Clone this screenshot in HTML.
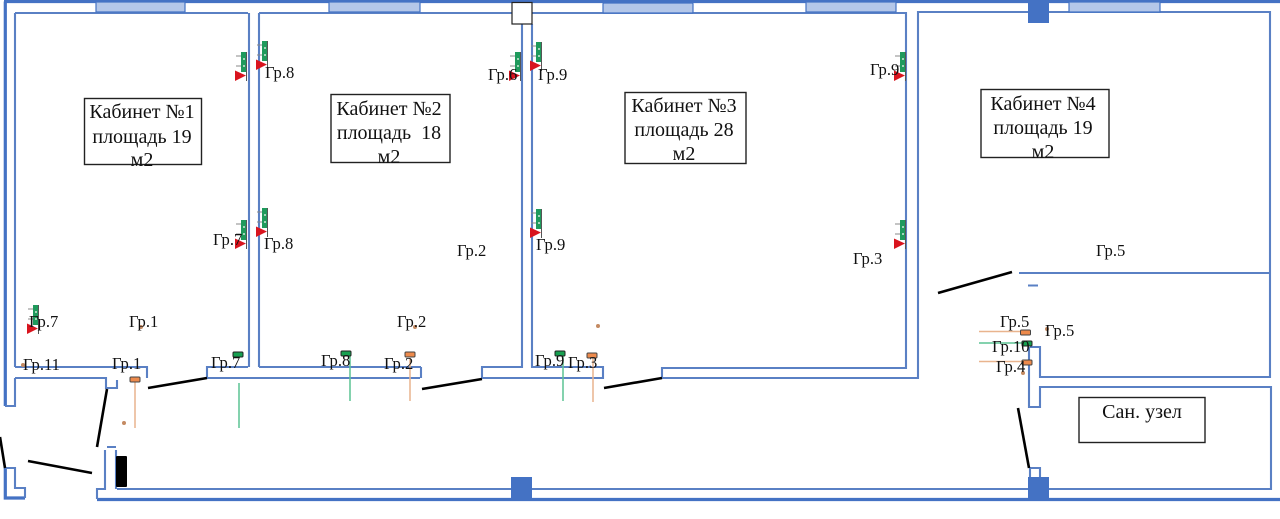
<!DOCTYPE html>
<html><head><meta charset="utf-8">
<style>
html,body{margin:0;padding:0;background:#fff;width:1280px;height:519px;overflow:hidden}
svg{display:block}
text{font-family:"Liberation Serif","Noto Serif CJK SC",serif;fill:#111}
.l{font-size:16.6px}
.c{font-size:20px;text-anchor:middle}
</style></head><body>
<svg width="1280" height="519" viewBox="0 0 1280 519" xmlns="http://www.w3.org/2000/svg">
<defs>
<g id="h">
<rect x="-5" y="0" width="6" height="20" fill="#1f9a5c"/>
<path d="M-3 7h2M-3 14h2" stroke="#cfe8d8" stroke-width="1.5"/>
<path d="M-10 4h5M-10 14h5" stroke="#888" stroke-width="1"/>
<path d="M-11 18.500L0 23.500L-11 29Z" fill="#d9141e"/>
<path d="M0.5 0V29" stroke="#555" stroke-width="1"/>
</g>
<rect id="sg" width="10" height="5" rx="1" fill="#17a050" stroke="#222" stroke-width="1"/>
<rect id="so" width="10" height="5" rx="1" fill="#ed8a4c" stroke="#444" stroke-width="1"/>
</defs>
<rect width="1280" height="519" fill="#fff"/>

<!-- thick outer walls -->
<g fill="none" stroke="#4472c4" stroke-width="3.200">
<path d="M4 1.500H1280"/>
<path d="M5.300 1.500V406"/>
<path d="M5.300 468V498H25"/>
<path d="M97 499.500H1280"/>
</g>

<!-- thin walls -->
<g fill="none" stroke="#5a80c4" stroke-width="2.100">
<path d="M15 13H248M249 13V367M15 13V367M15 367H147V378M15 378H106V388H117V380M15 378V406H5"/>
<path d="M207 378V367H248M207 378H420M421 367V378M259 13V367M259 367H421M259 13H512"/>
<path d="M482 378V367H522V24M532 24V367H603V378H482"/>
<path d="M662 378V368H906V13H532M662 378H918V12H1270V377H1040V347H1030M1029 347V407H1040V387H1271V489H117"/>
<path d="M1019 273H1270M1028 285.500H1038"/>
<path d="M5 468H15V488H25V498"/>
<path d="M107 447H116M105 450V489H97V499M116 450V489"/>
<path d="M1030 477V468H1040V477"/>
</g>

<!-- windows -->
<g fill="#b4c7e9" stroke="#4472c4" stroke-width="1.200">
<rect x="96" y="2" width="89" height="10"/>
<rect x="329" y="2" width="91" height="10"/>
<rect x="603" y="3" width="90" height="10" rx="1"/>
<rect x="806" y="2" width="90" height="10"/>
<rect x="1069" y="2" width="91" height="10"/>
</g>

<!-- columns -->
<g fill="#4472c4">
<rect x="1028" y="0" width="21" height="23"/>
<rect x="511" y="477" width="21" height="22"/>
<rect x="1028" y="477" width="21" height="22"/>
</g>
<rect x="512" y="2.500" width="20" height="21.500" fill="#fff" stroke="#222" stroke-width="1.200"/>

<!-- doors -->
<g stroke="#000" stroke-width="2.600" fill="none">
<path d="M107 389L97 447"/>
<path d="M28 461L92 473"/>
<path d="M0 437L5 468"/>
<path d="M148 388L207 378"/>
<path d="M422 389L482 379"/>
<path d="M604 388L662 378"/>
<path d="M938 293L1012 272"/>
<path d="M1018 408L1029 468"/>
</g>
<rect x="116" y="456" width="11" height="31" rx="1" fill="#000"/>

<!-- heaters -->
<use href="#h" x="246" y="52"/>
<use href="#h" x="267" y="41"/>
<use href="#h" x="246" y="220"/>
<use href="#h" x="267" y="208"/>
<use href="#h" x="38" y="305"/>
<use href="#h" x="520" y="52"/>
<use href="#h" x="541" y="42"/>
<use href="#h" x="541" y="209"/>
<use href="#h" x="905" y="52"/>
<use href="#h" x="905" y="220"/>

<!-- circuit drops -->
<g fill="none" stroke-width="1.500">
<path d="M135 381V428M410 358V401M593 358V402M979 331.500H1020M979 361.500H1022" stroke="#e9b48e"/>
<path d="M239 383V428M350 356V401M563 356V401M979 343H1022" stroke="#5cc394"/>
</g>
<use href="#sg" x="233" y="352"/>
<use href="#sg" x="341" y="351"/>
<use href="#sg" x="555" y="351"/>
<use href="#so" x="405" y="352"/>
<use href="#so" x="587" y="353"/>
<use href="#so" x="130" y="377"/>
<use href="#so" x="1020.500" y="330"/>
<use href="#sg" x="1022" y="341"/>
<use href="#so" x="1022" y="360"/>

<!-- small outlets -->
<g fill="#c48a62">
<circle cx="124" cy="423" r="2"/>
<circle cx="141" cy="327" r="2"/>
<circle cx="415" cy="327" r="2"/>
<circle cx="598" cy="326" r="2"/>
<circle cx="23" cy="365" r="2"/>
<circle cx="1047" cy="329" r="2"/>
<circle cx="1023" cy="373" r="2"/>
</g>

<!-- room boxes -->
<g fill="none" stroke="#222" stroke-width="1.400">
<rect x="84.500" y="98.500" width="117" height="66"/>
<rect x="331" y="94.500" width="119" height="68"/>
<rect x="625" y="92.500" width="121" height="71"/>
<rect x="981" y="89.500" width="128" height="68"/>
<rect x="1079" y="397.500" width="126" height="45"/>
</g>
<text class="c" x="142" y="118">Кабинет №1</text>
<text class="c" x="142" y="143">площадь 19</text>
<text class="c" x="142" y="166">м2</text>
<text class="c" x="389" y="115">Кабинет №2</text>
<text class="c" x="389" y="139">площадь&#160; 18</text>
<text class="c" x="389" y="163">м2</text>
<text class="c" x="684" y="112">Кабинет №3</text>
<text class="c" x="684" y="136">площадь 28</text>
<text class="c" x="684" y="160">м2</text>
<text class="c" x="1043" y="110">Кабинет №4</text>
<text class="c" x="1043" y="134">площадь 19</text>
<text class="c" x="1043" y="158">м2</text>
<text class="c" x="1142" y="418">Сан. узел</text>

<!-- labels -->
<text class="l" x="265" y="78">Гр.8</text>
<text class="l" x="213" y="245">Гр.7</text>
<text class="l" x="264" y="249">Гр.8</text>
<text class="l" x="488" y="80">Гр.6</text>
<text class="l" x="538" y="80">Гр.9</text>
<text class="l" x="870" y="75">Гр.9</text>
<text class="l" x="536" y="250">Гр.9</text>
<text class="l" x="853" y="264">Гр.3</text>
<text class="l" x="457" y="256">Гр.2</text>
<text class="l" x="1096" y="256">Гр.5</text>
<text class="l" x="29" y="327">Гр.7</text>
<text class="l" x="129" y="327">Гр.1</text>
<text class="l" x="397" y="327">Гр.2</text>
<text class="l" x="23" y="370">Гр.11</text>
<text class="l" x="112" y="369">Гр.1</text>
<text class="l" x="211" y="368">Гр.7</text>
<text class="l" x="321" y="366">Гр.8</text>
<text class="l" x="384" y="369">Гр.2</text>
<text class="l" x="535" y="366">Гр.9</text>
<text class="l" x="568" y="368">Гр.3</text>
<text class="l" x="1000" y="327">Гр.5</text>
<text class="l" x="1045" y="336">Гр.5</text>
<text class="l" x="992" y="352">Гр.10</text>
<text class="l" x="996" y="372">Гр.4</text>
</svg>
</body></html>
